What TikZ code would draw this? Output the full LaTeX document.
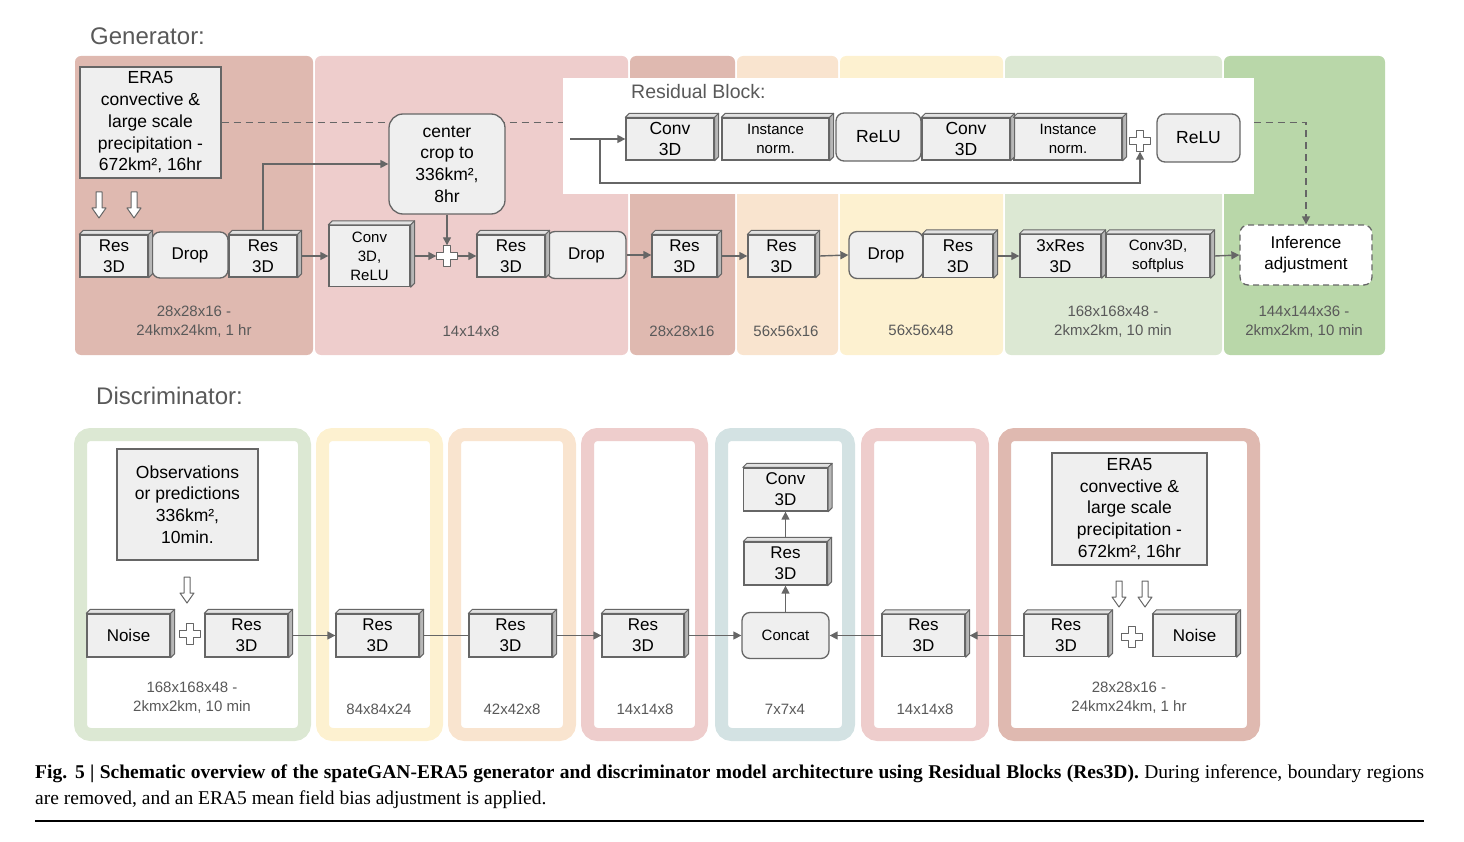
\documentclass[tikz,border=0pt]{standalone}
\usepackage{fontspec}
\setmainfont{Liberation Sans}
\newfontfamily\capfont{Liberation Serif}
\usetikzlibrary{arrows.meta}
\pgfdeclarelayer{background}
\pgfsetlayers{background,main}

\definecolor{rosy}{HTML}{DFB9B0}
\definecolor{pink}{HTML}{EECDCC}
\definecolor{peach}{HTML}{F9E4CF}
\definecolor{cream}{HTML}{FDF1D0}
\definecolor{sage}{HTML}{DCE8D3}
\definecolor{green}{HTML}{B9D7A9}
\definecolor{bluegray}{HTML}{D3E2E3}
\definecolor{linegray}{HTML}{666666}
\definecolor{boxfill}{HTML}{EFEFEF}
\definecolor{topfill}{HTML}{E2E2E2}
\definecolor{sidefill}{HTML}{B7B7B7}
\definecolor{textgray}{HTML}{595959}

\tikzset{
  wh/.style 2 args={minimum width=#1pt, minimum height=#2pt},
  box/.style={draw=linegray, fill=boxfill, line width=1.3pt, inner sep=0pt, align=center, font=\fontsize{17}{21}\selectfont},
  roundbox/.style={box, rounded corners=8pt},
  small/.style={font=\fontsize{15}{19}\selectfont},
  bigtext/.style={font=\fontsize{17.5}{21.7}\selectfont},
  face/.style={draw=linegray, line width=1pt, line join=round},
  arr/.style={draw=linegray, line width=1.4pt, -{Triangle[length=8pt,width=8pt]}},
  link/.style={draw=linegray, line width=1.4pt},
  dimlabel/.style={text=textgray, align=center, inner sep=0pt, font=\fontsize{15}{19}\selectfont},
  title/.style={text=textgray, anchor=west, inner sep=0pt, font=\fontsize{24}{28}\selectfont},
  hollow/.style={draw=linegray, fill=white, line width=1pt, line join=round},
  plusmark/.style={minimum size=21pt, inner sep=0pt},
  dpanel/.style={line width=13pt, fill=white, rounded corners=10pt},
  capline/.style={anchor=base west, inner sep=0pt, font=\capfont\fontsize{19.5}{24}\selectfont},
}

\begin{document}
\begin{tikzpicture}[x=1pt,y=-1pt]
\useasboundingbox (0,0) rectangle (1464,842);

% generator columns
\begin{pgfonlayer}{background}
\foreach \xa/\xb/\col in {75/313/rosy, 315/628/pink, 630/735/rosy, 737/838/peach, 840/1003/cream, 1005/1222/sage, 1224/1385/green}
  \fill[\col, rounded corners=6pt] (\xa,56) rectangle (\xb,355);
\end{pgfonlayer}

% residual block panel
\fill[white] (563,78) rectangle (1254,194);

% discriminator columns
\foreach \xa/\xb/\col in {74/311/sage, 316/443/cream, 448/576/peach, 581/708/pink, 715/855/bluegray, 861/989/pink, 998/1260/rosy}
  \draw[dpanel, draw=\col] (\xa+6.5,434.5) rectangle (\xb-6.5,734.5);

\node[title] (gtitle) at (90,36) {Generator:};
\node[title] (dtitle) at (96,396) {Discriminator:};

% generator
\node[box, bigtext, wh={141}{111}] (gera) at (150.5,122.5) {ERA5\\convective \&\\large scale\\precipitation -\\672km², 16hr};
\node[box, wh={68}{42}] (gres1) at (114,256) {Res\\3D};
\node[roundbox, wh={76}{46}] (gdrop1) at (190,255) {Drop};
\node[box, wh={68}{42}] (gres2) at (263,256) {Res\\3D};
\node[box, small, wh={81}{61}] (gconv) at (369.5,256) {Conv\\3D,\\ReLU};
\node[roundbox, bigtext, wh={116}{100}, rounded corners=14pt] (crop) at (447,164) {center\\crop to\\336km²,\\8hr};
\node[plusmark] (gplus) at (447,256) {};
\node[box, wh={68}{42}] (gres3) at (511,256) {Res\\3D};
\node[roundbox, wh={79}{47}] (gdrop2) at (586.5,255) {Drop};
\node[box, wh={65}{42}] (gres4) at (684.5,256) {Res\\3D};
\node[box, wh={67}{42}] (gres5) at (781.5,256) {Res\\3D};
\node[roundbox, wh={74}{47}] (gdrop3) at (886,255) {Drop};
\node[box, wh={70}{43}] (gres6) at (958,256) {Res\\3D};
\node[box, wh={81}{43}] (g3res) at (1060.5,256) {3xRes\\3D};
\node[box, small, wh={104}{43}] (gsoft) at (1158,256) {Conv3D,\\softplus};
\node[roundbox, dashed, dash pattern=on 6pt off 4pt, fill=white, wh={132}{60}] (infer) at (1306,255) {Inference\\adjustment};

\node[dimlabel] (glab1) at (194,321.5) {28x28x16 -\\24kmx24km, 1 hr};
\node[dimlabel] (glab2) at (471,331) {14x14x8};
\node[dimlabel] (glab3) at (682,331) {28x28x16};
\node[dimlabel] (glab4) at (786,331) {56x56x16};
\node[dimlabel] (glab5) at (921,330) {56x56x48};
\node[dimlabel] (glab6) at (1113,321.5) {168x168x48 -\\2kmx2km, 10 min};
\node[dimlabel] (glab7) at (1304,321.5) {144x144x36 -\\2kmx2km, 10 min};

% residual block
\node[title, font=\fontsize{19.5}{24}\selectfont] (rtitle) at (631,92) {Residual Block:};
\node[box, bigtext, wh={88}{42}] (rconv1) at (670,139) {Conv\\3D};
\node[box, small, wh={107}{42}] (rnorm1) at (775.5,139) {Instance\\norm.};
\node[roundbox, bigtext, wh={85}{48}] (rrelu1) at (878.5,137) {ReLU};
\node[box, bigtext, wh={88}{42}] (rconv2) at (966,139) {Conv\\3D};
\node[box, small, wh={108}{42}] (rnorm2) at (1068,139) {Instance\\norm.};
\node[plusmark] (rplus) at (1140,141) {};
\node[roundbox, bigtext, wh={83}{48}] (rrelu2) at (1198.5,138) {ReLU};
\coordinate (rin) at (570,139);
\coordinate (rsplit) at (600,139);
\coordinate (rskip) at (600,183);

% discriminator
\node[box, bigtext, wh={141}{111}] (dobs) at (187.5,504.5) {Observations\\or predictions\\336km²,\\10min.};
\node[box, wh={83}{43}] (dnoise1) at (128.5,635.5) {Noise};
\node[plusmark] (dplus1) at (189.5,634) {};
\node[box, wh={83}{43}] (dres1) at (246.5,635.5) {Res\\3D};
\node[box, wh={83}{43}] (dres2) at (377.5,635.5) {Res\\3D};
\node[box, wh={83}{43}] (dres3) at (510.5,635.5) {Res\\3D};
\node[box, wh={82}{43}] (dres4) at (643,635.5) {Res\\3D};
\node[roundbox, small, wh={87}{46}] (dconcat) at (785.5,635.5) {Concat};
\node[box, wh={83}{43}] (dres5) at (785.5,563.5) {Res\\3D};
\node[box, wh={84}{43}] (dconv) at (785.5,489.5) {Conv\\3D};
\node[box, wh={83}{42}] (dres6) at (923.5,635.5) {Res\\3D};
\node[box, bigtext, wh={155}{112}] (dera) at (1129.5,509) {ERA5\\convective \&\\large scale\\precipitation -\\672km², 16hr};
\node[box, wh={84}{42}] (dres7) at (1066,635.5) {Res\\3D};
\node[plusmark] (dplus2) at (1132,637) {};
\node[box, wh={83}{42}] (dnoise2) at (1194.5,635.5) {Noise};

\node[dimlabel] (dlab1) at (192,698) {168x168x48 -\\2kmx2km, 10 min};
\node[dimlabel] (dlab2) at (379,709) {84x84x24};
\node[dimlabel] (dlab3) at (512,709) {42x42x8};
\node[dimlabel] (dlab4) at (645,709) {14x14x8};
\node[dimlabel] (dlab5) at (785,709) {7x7x4};
\node[dimlabel] (dlab6) at (925,709) {14x14x8};
\node[dimlabel] (dlab7) at (1129,697.5) {28x28x16 -\\24kmx24km, 1 hr};

% 3D faces
\foreach \n in {gres1,gres2,gconv,gres3,gres4,gres5,gres6,g3res,gsoft,rconv1,rnorm1,rconv2,rnorm2,dnoise1,dres1,dres2,dres3,dres4,dres5,dconv,dres6,dres7,dnoise2} {
  \draw[face, fill=topfill] (\n.north west) -- ++(4,-4) -- ([shift={(4,-4)}]\n.north east) -- (\n.north east) -- cycle;
  \draw[face, fill=sidefill] (\n.north east) -- ++(4,-4) -- ([shift={(4,-4)}]\n.south east) -- (\n.south east) -- cycle;
}

% plus signs and input arrows
\foreach \n in {gplus,rplus,dplus1,dplus2}
  \draw[hollow] ([shift={(-3.5,-10.5)}]\n.center) -- ++(7,0) -- ++(0,7) -- ++(7,0) -- ++(0,7) -- ++(-7,0) -- ++(0,7) -- ++(-7,0) -- ++(0,-7) -- ++(-7,0) -- ++(0,-7) -- ++(7,0) -- cycle;
\foreach \x/\y in {99/192, 134/192, 187/577, 1119/581, 1145/581}
  \draw[hollow] (\x-3,\y) -- ++(6,0) -- ++(0,16) -- ++(4,0) -- (\x,\y+26) -- (\x-7,\y+16) -- ++(4,0) -- cycle;

% generator connectors
\draw[arr] ([yshift=4pt]gres2.north) |- (crop.west);
\draw[arr] ([xshift=4pt]gres2.east) -- (gconv.west);
\draw[arr] ([xshift=4pt]gconv.east) -- (gplus.west);
\draw[arr] (crop.south) -- (gplus.north);
\draw[arr] (gplus.east) -- (gres3.west);
\draw[arr] (gdrop2.east) -- (gdrop2.east -| gres4.west);
\draw[arr] ([xshift=4pt]gres4.east) -- (gres5.west);
\draw[arr] ([xshift=4pt]gres5.east) -- (gdrop3.west);
\draw[arr] ([xshift=4pt]gres6.east) -- (g3res.west);
\draw[arr] ([xshift=4pt]gsoft.east) -- (infer.west);
\begin{pgfonlayer}{background}
\draw[arr, dash pattern=on 7pt off 5pt] (gera.east) -- (gera.east -| infer.north) -- (infer.north);
\end{pgfonlayer}

% residual block connectors
\draw[arr] (rin) -- (rconv1.west);
\draw[arr] (rsplit) -- (rskip) -| (rplus.south);

% discriminator connectors
\draw[arr] ([xshift=4pt]dres1.east) -- (dres2.west);
\draw[link] ([xshift=4pt]dres2.east) -- (dres3.west);
\draw[arr] ([xshift=4pt]dres3.east) -- (dres4.west);
\draw[arr] ([xshift=4pt]dres4.east) -- (dconcat.west);
\draw[arr] (dconcat.north) -- (dres5.south);
\draw[arr] ([yshift=4pt]dres5.north) -- (dconv.south);
\draw[arr] (dres6.west) -- (dconcat.east);
\draw[arr] (dres7.west) -- ([xshift=4pt]dres6.east);

% caption
\node[capline] (cap1) at (35,778) {\makebox[1389pt][s]{\textbf{Fig. 5 | Schematic overview of the spateGAN-ERA5 generator and discriminator model architecture using Residual Blocks (Res3D).} During inference, boundary regions}};
\node[capline] (cap2) at (35,804) {are removed, and an ERA5 mean field bias adjustment is applied.};
\coordinate (rulel) at (35,821);
\coordinate (ruler) at (1424,821);
\draw[line width=1.6pt] (rulel) -- (ruler);
\end{tikzpicture}
\end{document}
